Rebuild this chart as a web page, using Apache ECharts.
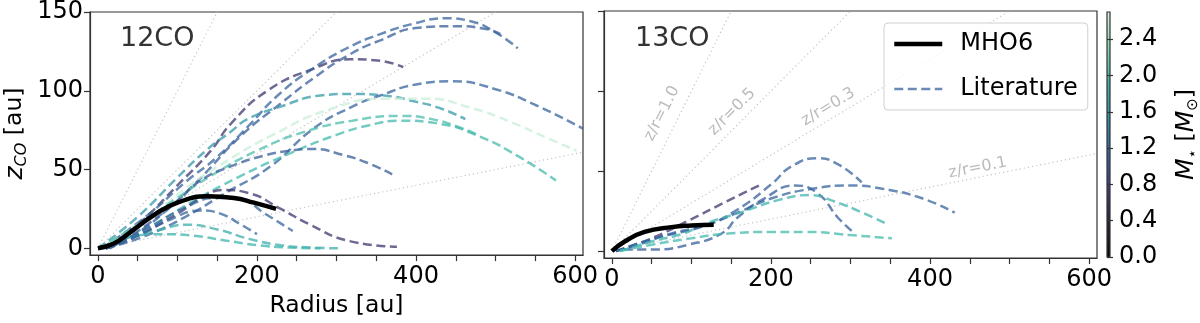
<!DOCTYPE html>
<html>
<head>
<meta charset="utf-8">
<script src="https://cdn.jsdelivr.net/npm/echarts@6/dist/echarts.min.js"></script>
<style>
html, body {margin: 0; padding: 0; background: #fff;}
#main {width: 1200px; height: 323px;}
</style>
</head>
<body>
<div id="main"></div>
<script>
// 刻度
var radiusLabels = [0, 200, 400, 600];
var radiusTicks = [0, 50, 100, 150, 200, 250, 300, 350, 400, 450, 500, 550, 600];
var zTicks = [0, 50, 100, 150];
var massTicks = [0, 0.4, 0.8, 1.2, 1.6, 2.0, 2.4];
var massMax = 2.7;
var zrSlopes = [1.0, 0.5, 0.3, 0.1];

// MHO6 曲线 [r, z]
var mho6_12co = [[0, 0], [20, 3], [40, 10], [70, 21], [100, 29], [138, 33], [171, 32], [196, 29], [224, 25]];
var mho6_13co = [[0, 0], [16, 6], [41, 12], [75, 15], [100, 16], [128, 16.5]];

// 文献曲线 12CO
var lit12_1 = [[10, 0], [50, 15], [100, 40], [142, 62], [167, 79], [213, 100], [271, 114], [317, 120], [355, 119], [384, 115]];
var lit12_2 = [[5, 0], [60, 20], [110, 42], [150, 58], [190, 78], [226, 97], [270, 114], [313, 127], [355, 136], [400, 143], [435, 146], [470, 144], [500, 137], [528, 127]];
var lit12_3 = [[15, 0], [70, 18], [120, 40], [179, 71], [230, 92], [271, 108], [313, 122], [355, 132], [403, 140], [450, 141], [490, 139], [506, 136]];
var lit12_4 = [[0, 0], [50, 20], [100, 45], [138, 63], [167, 74], [188, 82], [230, 90], [280, 97], [320, 98], [360, 97], [400, 93], [430, 89], [462, 82]];
var lit12_5 = [[10, 0], [60, 8], [110, 20], [160, 35], [217, 52], [271, 76], [320, 90], [355, 97], [400, 104], [445, 106], [500, 101], [550, 91], [610, 76]];
var lit12_6 = [[0, 0], [60, 18], [110, 38], [154, 53], [220, 72], [290, 88], [364, 95], [413, 95], [470, 89], [520, 80], [565, 70], [602, 62]];
var lit12_7 = [[0, 0], [50, 15], [100, 32], [142, 46], [200, 62], [260, 74], [320, 81], [380, 84], [420, 82], [459, 76], [477, 72]];
var lit12_8 = [[10, 0], [70, 15], [120, 30], [176, 45], [240, 60], [300, 72], [340, 78], [380, 81], [430, 79], [480, 71], [530, 58], [576, 43]];
var lit12_9 = [[10, 0], [50, 10], [100, 30], [129, 43], [167, 52], [210, 59], [242, 62], [270, 63], [310, 59], [340, 54], [370, 47]];
var lit12_10 = [[10, 0], [50, 8], [100, 22], [130, 32], [158, 37], [190, 35], [230, 25], [267, 15], [313, 5], [376, 1]];
var lit12_11 = [[10, 0], [50, 8], [80, 12], [110, 15], [150, 12], [190, 6], [230, 2], [270, 0.5], [305, 0]];
var lit12_12 = [[5, 0], [40, 7], [80, 9], [120, 8], [160, 5], [200, 2], [240, 0.5], [280, 0]];
var lit12_13 = [[10, 0], [50, 8], [90, 18], [129, 24], [154, 22], [180, 15], [200, 9]];
var lit12_14 = [[10, 0], [60, 12], [110, 26], [150, 32], [180, 31], [210, 22], [245, 11]];
var lit12Curves = [lit12_1, lit12_2, lit12_3, lit12_4, lit12_5, lit12_6, lit12_7, lit12_8, lit12_9, lit12_10, lit12_11, lit12_12, lit12_13, lit12_14];
var lit12Mass = [0.7, 1.15, 1.1, 1.65, 1.15, 2.6, 2.0, 1.95, 1.1, 0.7, 1.85, 1.9, 1.15, 1.2];

// 文献曲线 13CO
var lit13_1 = [[5, 0], [50, 8], [96, 19], [140, 30], [189, 42]];
var lit13_2 = [[5, 0], [54, 8], [117, 16], [158, 26], [201, 42], [226, 53], [259, 58], [285, 54], [314, 43]];
var lit13_3 = [[15, 1], [54, 1], [96, 4], [138, 11], [158, 21], [192, 33], [230, 41], [259, 36], [284, 21], [303, 12]];
var lit13_4 = [[5, 0], [33, 4], [75, 11], [117, 16], [158, 24], [201, 33], [252, 39], [300, 41], [340, 39], [390, 33], [431, 24]];
var lit13_5 = [[10, 0], [50, 6], [90, 11], [117, 17], [167, 25], [210, 32], [249, 35], [280, 31], [315, 24], [346, 17]];
var lit13_6 = [[10, 0], [50, 4], [100, 8], [146, 11], [200, 12], [243, 12], [300, 10], [352, 8]];
var lit13Curves = [lit13_1, lit13_2, lit13_3, lit13_4, lit13_5, lit13_6];
var lit13Mass = [0.7, 1.15, 1.1, 1.15, 1.9, 1.95];

// z/r 标注
var zrLabels = [
    {text: 'z/r=1.0', r: 63, z: 86, angle: 63},
    {text: 'z/r=0.5', r: 151, z: 87, angle: 45},
    {text: 'z/r=0.3', r: 272, z: 90, angle: 31},
    {text: 'z/r=0.1', r: 460, z: 52, angle: 11}
];

// mako 色带
var makoStops = [
    [0.0, [11, 4, 5]],
    [1 / 7, [46, 30, 59]],
    [2 / 7, [65, 61, 123]],
    [3 / 7, [55, 101, 158]],
    [4 / 7, [52, 143, 167]],
    [5 / 7, [64, 183, 173]],
    [6 / 7, [138, 217, 177]],
    [1.0, [222, 245, 229]]
];

function makoColor(m) {
    var t = Math.max(0, Math.min(1, m / massMax));
    for (var i = 1; i < makoStops.length; i++) {
        if (t <= makoStops[i][0]) {
            var a = makoStops[i - 1], b = makoStops[i];
            var f = (t - a[0]) / (b[0] - a[0]);
            var c = [0, 1, 2].map(function (k) { return Math.round(a[1][k] + f * (b[1][k] - a[1][k])); });
            return 'rgb(' + c.join(',') + ')';
        }
    }
    return 'rgb(222,245,229)';
}

var FONT = 'DejaVu Sans';
var dashPattern = [9, 4.5];

function litSeries(curve, mass, idx, name) {
    return {
        name: name,
        type: 'line',
        xAxisIndex: idx,
        yAxisIndex: idx,
        data: curve,
        smooth: 0.5,
        symbol: 'none',
        silent: true,
        z: 2,
        itemStyle: {color: makoColor(mass)},
        lineStyle: {color: makoColor(mass), width: 2.5, type: dashPattern, opacity: 0.75}
    };
}

function zrSeries(idx) {
    return zrSlopes.map(function (s) {
        return {
            type: 'line', xAxisIndex: idx, yAxisIndex: idx,
            data: [[0, 0], [610, 610 * s]],
            symbol: 'none', silent: true, z: 1,
            lineStyle: {color: '#c4c4c4', width: 1.2, type: [1.2, 3]}
        };
    });
}

var series = [];
series = series.concat(zrSeries(0), zrSeries(1));
lit12Curves.forEach(function (c, i) { series.push(litSeries(c, lit12Mass[i], 0, 'lit12_' + i)); });
lit13Curves.forEach(function (c, i) { series.push(litSeries(c, lit13Mass[i], 1, 'lit13_' + i)); });
// 图例用
series.push(litSeries([], 1.15, 0, 'Literature'));
[mho6_12co, mho6_13co].forEach(function (c, i) {
    series.push({
        name: 'MHO6', type: 'line', xAxisIndex: i, yAxisIndex: i, data: c,
        smooth: 0.5, symbol: 'none', silent: true, z: 4,
        itemStyle: {color: '#000'},
        lineStyle: {color: '#000', width: 4.5}
    });
});
series.push({
    type: 'scatter', xAxisIndex: 1, yAxisIndex: 1, symbolSize: 0, silent: true, z: 3,
    data: zrLabels.map(function (d) {
        return {value: [d.r, d.z], label: {formatter: d.text, rotate: d.angle}};
    }),
    label: {show: true, position: 'inside', color: '#aaaaaa', fontSize: 16, fontFamily: FONT}
});
// 色标
series.push({type: 'line', xAxisIndex: 2, yAxisIndex: 2, data: [], symbol: 'none'});

function radiusAxis(idx, name) {
    return {
        type: 'value', gridIndex: idx, min: -10, max: 610,
        name: name, nameLocation: 'middle', nameGap: 38,
        nameTextStyle: {fontSize: 23.5, color: '#000', fontFamily: FONT},
        axisLine: {show: true, onZero: false, lineStyle: {color: '#333', width: 1.2}},
        axisTick: {show: true, customValues: radiusTicks, length: 6, lineStyle: {color: '#333', width: 1.2}},
        axisLabel: {customValues: radiusLabels, fontSize: 24, color: '#000', margin: 10, fontFamily: FONT},
        splitLine: {show: false}
    };
}

function zAxis(idx, showLabel) {
    var ax = {
        type: 'value', gridIndex: idx, min: -4.3, max: 150,
        axisLine: {show: true, onZero: false, lineStyle: {color: '#333', width: 1.2}},
        axisTick: {show: true, customValues: zTicks, length: 6, lineStyle: {color: '#333', width: 1.2}},
        axisLabel: {show: showLabel, customValues: zTicks, fontSize: 24, color: '#000', margin: 7, fontFamily: FONT},
        splitLine: {show: false}
    };
    if (showLabel) {
        ax.name = '{i|z}{s|CO} [au]';
        ax.nameLocation = 'middle';
        ax.nameGap = 60;
        ax.nameRotate = 90;
        ax.nameTextStyle = {
            fontSize: 23.5, color: '#000', fontFamily: FONT,
            rich: {
                i: {fontSize: 25, fontStyle: 'italic', color: '#000', fontFamily: FONT, lineHeight: 30},
                s: {fontSize: 16, fontStyle: 'italic', color: '#000', fontFamily: FONT, verticalAlign: 'bottom', lineHeight: 30}
            }
        };
    }
    return ax;
}

var gradStops = makoStops.map(function (s) {
    return {offset: s[0], color: 'rgb(' + s[1].join(',') + ')'};
});

var option = {
    animation: false,
    backgroundColor: '#fff',
    textStyle: {fontFamily: FONT},
    grid: [
        {left: 90, top: 11, width: 493, height: 247, show: true, borderColor: '#333', borderWidth: 1.2, backgroundColor: 'transparent'},
        {left: 604, top: 11, width: 493, height: 247, show: true, borderColor: '#333', borderWidth: 1.2, backgroundColor: 'transparent'},
        {left: 1107, top: 12, width: 12, height: 245, show: true, borderColor: '#333', borderWidth: 1.2,
            backgroundColor: new echarts.graphic.LinearGradient(0, 1, 0, 0, gradStops)}
    ],
    xAxis: [
        radiusAxis(0, 'Radius [au]'),
        radiusAxis(1, ''),
        {type: 'value', gridIndex: 2, min: 0, max: 1, show: false}
    ],
    yAxis: [
        zAxis(0, true),
        zAxis(1, false),
        {
            type: 'value', gridIndex: 2, min: 0, max: massMax, position: 'right',
            name: '{i|M}{s|⋆} [{i|M}{s|⊙}]', nameLocation: 'middle', nameGap: 61, nameRotate: 90,
            nameTextStyle: {
                fontSize: 23.5, color: '#000', fontFamily: FONT,
                rich: {
                    i: {fontSize: 25, fontStyle: 'italic', color: '#000', fontFamily: FONT, lineHeight: 30},
                    s: {fontSize: 15, color: '#000', fontFamily: FONT, verticalAlign: 'bottom', lineHeight: 30}
                }
            },
            axisLine: {show: false},
            axisTick: {show: true, customValues: massTicks, length: 6, lineStyle: {color: '#333', width: 1.2}},
            axisLabel: {customValues: massTicks, fontSize: 24, color: '#000', margin: 9, fontFamily: FONT,
                formatter: function (v) { return v.toFixed(1); }},
            splitLine: {show: false}
        }
    ],
    legend: {
        data: ['MHO6', 'Literature'],
        orient: 'vertical',
        left: 884, top: 23,
        itemWidth: 48, itemHeight: 14, itemGap: 21,
        padding: [9, 10, 9, 8],
        borderColor: '#d0d0d0', borderWidth: 1, borderRadius: 4,
        backgroundColor: 'rgba(255,255,255,0.8)',
        itemStyle: {opacity: 0},
        lineStyle: {width: 'inherit'},
        textStyle: {fontSize: 24, color: '#000', fontFamily: FONT, padding: [0, 0, 0, 13]},
        selectedMode: false
    },
    graphic: [
        {type: 'text', left: 120, top: 25, style: {text: '12CO', fontSize: 27, fill: '#333', fontFamily: FONT}},
        {type: 'text', left: 635, top: 25, style: {text: '13CO', fontSize: 27, fill: '#333', fontFamily: FONT}}
    ],
    series: series
};

var myChart = echarts.init(document.getElementById('main'));
myChart.setOption(option);
</script>
</body>
</html>
